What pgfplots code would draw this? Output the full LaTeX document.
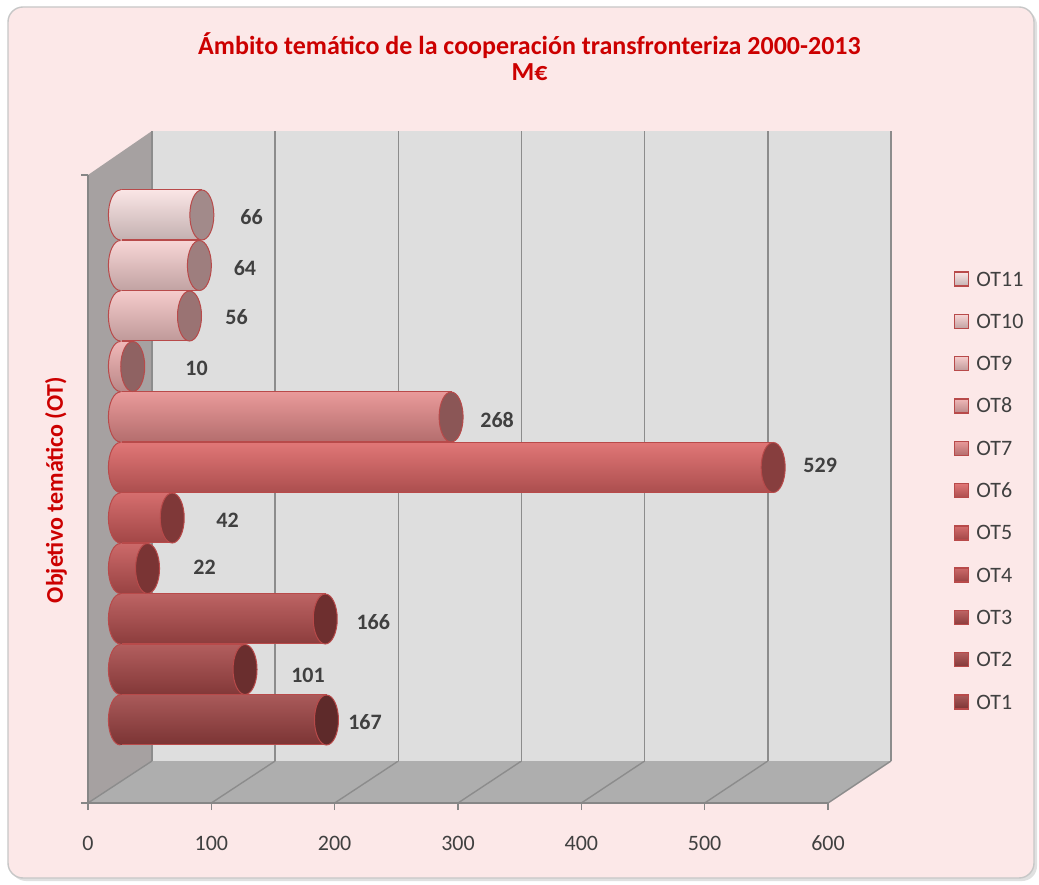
\documentclass[border=0pt]{standalone}
\usepackage{fontspec}
\setmainfont{Carlito}
\usepackage{pgfplots}
\pgfplotsset{compat=1.18}

\definecolor{bg}{HTML}{FCE8E8}
\definecolor{titlered}{HTML}{CC0000}
\definecolor{txt}{HTML}{404040}
\definecolor{wallback}{HTML}{DEDEDE}
\definecolor{wallleft}{HTML}{A6A1A1}
\definecolor{floorc}{HTML}{AEAEAE}
\definecolor{gridc}{HTML}{8C8C8C}
\definecolor{axisgray}{HTML}{868686}
\definecolor{edge}{HTML}{B84A4A}
\definecolor{c1}{HTML}{9E4343}\definecolor{k1}{HTML}{5E2A2A}
\definecolor{c2}{HTML}{A84848}\definecolor{k2}{HTML}{6A2E2E}
\definecolor{c3}{HTML}{B44E4E}\definecolor{k3}{HTML}{6E2F2F}
\definecolor{c4}{HTML}{C45555}\definecolor{k4}{HTML}{7A3434}
\definecolor{c5}{HTML}{CF5A5A}\definecolor{k5}{HTML}{7F3838}
\definecolor{c6}{HTML}{DC6464}\definecolor{k6}{HTML}{873E3E}
\definecolor{c7}{HTML}{E68C8C}\definecolor{k7}{HTML}{8B5656}
\definecolor{c8}{HTML}{EEAEAE}\definecolor{k8}{HTML}{8F6262}
\definecolor{c9}{HTML}{F4C4C4}\definecolor{k9}{HTML}{9A7373}
\definecolor{c10}{HTML}{F7D0D0}\definecolor{k10}{HTML}{9E7E7E}
\definecolor{c11}{HTML}{FAE2E2}\definecolor{k11}{HTML}{A28A8A}
\colorlet{curbar}{c1}

\pgfdeclareplotmark{lcap}{%
  \path[draw=none, top color=curbar!88!white, middle color=curbar, bottom color=curbar!78!black]
    (0.7pt,12.5pt) -- (0pt,12.5pt) arc[start angle=90, end angle=270, x radius=6pt, y radius=12.5pt]
    -- (0.7pt,-12.5pt) -- cycle;
  \draw[edge, line width=0.5pt] (0pt,12.5pt) arc[start angle=90, end angle=270, x radius=6pt, y radius=12.5pt];
}
\pgfdeclareplotmark{rcap}{%
  \pgfpathellipse{\pgfpointorigin}{\pgfqpoint{6pt}{0pt}}{\pgfqpoint{0pt}{12.5pt}}%
  \pgfusepathqfillstroke
}

\pgfplotsset{
  mybar/.style={xbar, bar width=25pt, bar shift=0pt, draw=edge, line width=0.5pt,
    top color=#1!88!white, middle color=#1, bottom color=#1!78!black,
    point meta=x, nodes near coords,
    every node near coord/.append style={anchor=center,
      font=\bfseries\fontsize{11}{13}\selectfont, text=txt}},
  lc/.style={forget plot, only marks, mark=lcap, draw=none, /utils/exec={\xglobal\colorlet{curbar}{#1}}},
  rc/.style={forget plot, only marks, mark=rcap, mark options={fill=#1, draw=edge, line width=0.5pt}},
}

\begin{document}
\begin{tikzpicture}
% background and frame
\fill[white] (0,0) rectangle (519.5pt,442pt);
\fill[black!12, rounded corners=7.5pt] (5.5pt,1.5pt) rectangle (518.5pt,437pt);
\filldraw[fill=bg, draw=black!22, line width=0.7pt, rounded corners=7.5pt] (4pt,3pt) rectangle (517pt,438.5pt);

% left wall and floor
\fill[wallleft] (44pt,354.5pt) -- (76pt,376.5pt) -- (76pt,61.5pt) -- (44pt,40.5pt) -- cycle;
\fill[floorc] (44pt,40.5pt) -- (414pt,40.5pt) -- (445.5pt,61.5pt) -- (76pt,61.5pt) -- cycle;
\foreach \k in {0,...,6} {
  \draw[gridc, line width=0.7pt] ({44pt+61.667pt*\k},40.5pt) -- ({76pt+61.583pt*\k},61.5pt);
}

% back wall
\begin{axis}[
  at={(76pt,61.5pt)}, anchor=south west,
  width=369.5pt, height=315pt, scale only axis,
  xmin=0, xmax=600, ymin=0, ymax=1,
  axis background/.style={fill=wallback},
  axis line style={draw=none},
  xtick={0,100,...,600}, ytick=\empty, xticklabels={},
  major tick length=0pt,
  xmajorgrids, grid style={gridc, line width=0.8pt},
]
\addplot[draw=none] coordinates {(0,0) (600,1)};
\end{axis}

% front axis with ticks
\begin{axis}[
  at={(44pt,40.5pt)}, anchor=south west,
  width=370pt, height=314pt, scale only axis,
  xmin=0, xmax=600, ymin=0, ymax=1,
  axis x line*=bottom, axis y line*=left,
  axis line style={-, draw=axisgray, line width=0.8pt},
  xtick={0,100,...,600}, ytick={0,1}, yticklabels={},
  tick align=outside, major tick length=3.5pt,
  tick style={axisgray, line width=0.8pt},
  /pgf/number format/assume math mode=true,
  xticklabel style={font=\fontsize{11}{13}\selectfont, text=txt},
  xticklabel shift=9.5pt,
]
\addplot[draw=none] coordinates {(0,0) (600,1)};
\end{axis}

% bars
\begin{axis}[
  at={(60.2pt,56.75pt)}, anchor=south west,
  width=370.2pt, height=303pt, scale only axis,
  xmin=0, xmax=600, ymin=0, ymax=12,
  hide axis, clip=false,
  /pgf/number format/assume math mode=true,
  reverse legend,
  legend cell align=left,
  legend image code/.code={\draw[#1, line width=0.7pt] (0pt,-3.5pt) rectangle (7pt,3.5pt);},
  legend style={at={(1.1259,0.462)}, anchor=west, draw=none, fill=none,
    inner sep=0pt, outer sep=0pt, row sep=13.45pt, column sep=3.5pt,
    font=\fontsize{11}{13}\selectfont,
    nodes={inner sep=0pt, text height=7pt, text depth=0pt, text=txt}},
]
% OT1
\addplot[mybar=c1, every node near coord/.append style={xshift=19.25pt, yshift=-1pt}] coordinates {(167,1)};
\addplot[lc=c1] coordinates {(0,1)};
\addplot[rc=k1] coordinates {(167,1)};
% OT2
\addplot[mybar=c2, every node near coord/.append style={xshift=31.5pt, yshift=-2.75pt}] coordinates {(101,2)};
\addplot[lc=c2] coordinates {(0,2)};
\addplot[rc=k2] coordinates {(101,2)};
% OT3
\addplot[mybar=c3, every node near coord/.append style={xshift=24pt, yshift=-1.5pt}] coordinates {(166,3)};
\addplot[lc=c3] coordinates {(0,3)};
\addplot[rc=k3] coordinates {(166,3)};
% OT4
\addplot[mybar=c4, every node near coord/.append style={xshift=28.5pt, yshift=0.5pt}] coordinates {(22,4)};
\addplot[lc=c4] coordinates {(0,4)};
\addplot[rc=k4] coordinates {(22,4)};
% OT5
\addplot[mybar=c5, every node near coord/.append style={xshift=27.7pt, yshift=-1.25pt}] coordinates {(42,5)};
\addplot[lc=c5] coordinates {(0,5)};
\addplot[rc=k5] coordinates {(42,5)};
% OT6
\addplot[mybar=c6, every node near coord/.append style={xshift=23.5pt, yshift=1.25pt}] coordinates {(529,6)};
\addplot[lc=c6] coordinates {(0,6)};
\addplot[rc=k6] coordinates {(529,6)};
% OT7
\addplot[mybar=c7, every node near coord/.append style={xshift=23pt, yshift=-1.5pt}] coordinates {(268,7)};
\addplot[lc=c7] coordinates {(0,7)};
\addplot[rc=k7] coordinates {(268,7)};
% OT8
\addplot[mybar=c8, every node near coord/.append style={xshift=31.9pt, yshift=-0.75pt}] coordinates {(10,8)};
\addplot[lc=c8] coordinates {(0,8)};
\addplot[rc=k8] coordinates {(10,8)};
% OT9
\addplot[mybar=c9, every node near coord/.append style={xshift=23.5pt, yshift=-0.5pt}] coordinates {(56,9)};
\addplot[lc=c9] coordinates {(0,9)};
\addplot[rc=k9] coordinates {(56,9)};
% OT10
\addplot[mybar=c10, every node near coord/.append style={xshift=22.8pt, yshift=-1.25pt}] coordinates {(64,10)};
\addplot[lc=c10] coordinates {(0,10)};
\addplot[rc=k10] coordinates {(64,10)};
% OT11
\addplot[mybar=c11, every node near coord/.append style={xshift=24.9pt, yshift=-1pt}] coordinates {(66,11)};
\addplot[lc=c11] coordinates {(0,11)};
\addplot[rc=k11] coordinates {(66,11)};
\legend{OT1,OT2,OT3,OT4,OT5,OT6,OT7,OT8,OT9,OT10,OT11}
\end{axis}

% title and axis label
\node[align=center, font=\bfseries\fontsize{13}{13}\selectfont, text=titlered] at (264.75pt,413.5pt)
  {Ámbito temático de la cooperación transfronteriza 2000-2013\\M€};
\node[rotate=90, font=\bfseries\fontsize{12}{14}\selectfont, text=titlered] at (28pt,197pt)
  {Objetivo temático (OT)};

\pgfresetboundingbox
\useasboundingbox (0,0) rectangle (519.5pt,442pt);
\end{tikzpicture}
\end{document}
